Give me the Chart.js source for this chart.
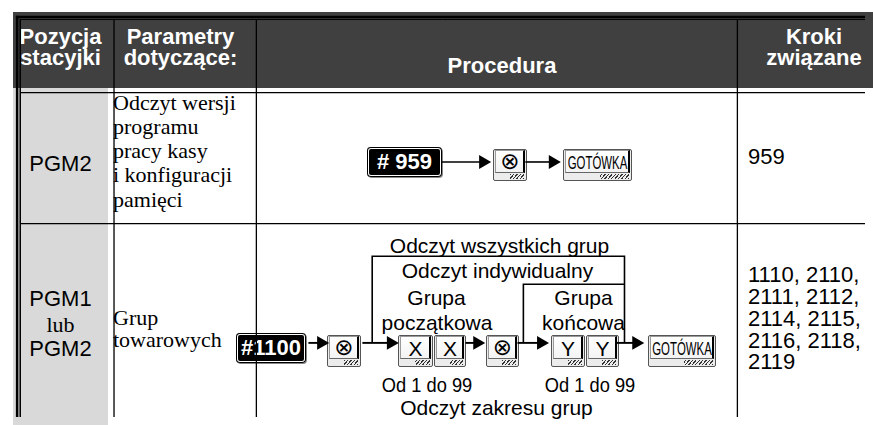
<!DOCTYPE html>
<html>
<head>
<meta charset="utf-8">
<script src="https://cdn.jsdelivr.net/npm/chart.js@4.4.1/dist/chart.umd.min.js"></script>
<style>
html,body{margin:0;padding:0;background:#fff;}
#wrap{position:relative;width:873px;height:425px;overflow:hidden;background:#fff;}
#cv{position:absolute;left:0;top:0;z-index:5;pointer-events:none;}
.t{position:absolute;white-space:pre;}
.bg{position:absolute;}
.gk{position:absolute;box-sizing:border-box;border:1px solid #555;background:#ececec;border-radius:2px;}
.gk .face{position:absolute;box-sizing:border-box;left:1px;top:0px;right:1px;bottom:7px;background:linear-gradient(#ffffff,#f3f3f3);border:1px solid #9a9a9a;border-right:2px solid #000;border-bottom:1px solid #666;}
.gk .hatch{position:absolute;right:2px;bottom:1px;height:5px;background:repeating-linear-gradient(-50deg,#333 0 1px,transparent 1px 2.6px);}
.gk .lbl{position:absolute;left:-60px;right:-60px;text-align:center;white-space:pre;color:#000;}
.bk{position:absolute;box-sizing:border-box;background:#000;border-radius:4px;box-shadow:inset 0 0 0 1px #000,inset 0 0 0 2px #fff,1px 1px 0 #888;}
.bk .lbl{position:absolute;left:-20px;right:-20px;text-align:center;white-space:pre;color:#fff;font-family:"Liberation Sans",Arial,sans-serif;font-weight:bold;}
</style>
</head>
<body>
<div id="wrap"><canvas id="cv" width="873" height="425"></canvas></div>
<script>
// ---- content (texts) ----
const headerCol1 = ["Pozycja", "stacyjki"];
const headerCol2 = ["Parametry", "dotyczące:"];
const headerCol3 = ["Procedura"];
const headerCol4 = ["Kroki", "związane"];
const row1Position = ["PGM2"];
const row1Params = ["Odczyt wersji", "programu", "pracy kasy", "i konfiguracji", "pamięci"];
const row1Steps = ["959"];
const row2Position = ["PGM1", "lub", "PGM2"];
const row2Params = ["Grup", "towarowych"];
const row2Steps = ["1110, 2110,", "2111, 2112,", "2114, 2115,", "2116, 2118,", "2119"];
const flow1Keys = ["# 959", "⊗", "GOTÓWKA"];
const flow2Keys = ["#1100", "⊗", "X", "X", "⊗", "Y", "Y", "GOTÓWKA"];
const flow2Labels = ["Odczyt wszystkich grup", "Odczyt indywidualny", "Grupa", "początkowa", "Grupa", "końcowa", "Od 1 do 99", "Od 1 do 99", "Odczyt zakresu grup"];

// ---- layout ----
const wrap = document.getElementById('wrap');
const SANS = '"Liberation Sans", Arial, sans-serif';
const SERIF = '"Liberation Serif", "Times New Roman", serif';

function bg(x0, y0, x1, y1, color) {
  const d = document.createElement('div');
  d.className = 'bg';
  Object.assign(d.style, {left: x0 + 'px', top: y0 + 'px', width: (x1 - x0) + 'px', height: (y1 - y0) + 'px', background: color});
  wrap.appendChild(d);
}
function put(text, x, base, o) {
  const size = o.size || 21;
  const serif = o.serif;
  const k = serif ? 0.8375 : 0.8465;
  const d = document.createElement('div');
  d.className = 't';
  d.textContent = text;
  Object.assign(d.style, {
    left: x + 'px', top: (base - k * size) + 'px', lineHeight: size + 'px',
    fontSize: size + 'px', fontFamily: serif ? SERIF : SANS,
    fontWeight: o.bold ? 'bold' : 'normal', color: o.color || '#000'
  });
  const sx = o.sx || 1;
  if (o.center) { d.style.transform = 'translateX(-50%) scaleX(' + sx + ')'; }
  else if (sx !== 1) { d.style.transformOrigin = '0 0'; d.style.transform = 'scaleX(' + sx + ')'; }
  wrap.appendChild(d);
}
function lines(arr, x, base0, step, o) {
  arr.forEach((s, i) => put(s, x, base0 + i * step, o));
}
function grayKey(label, x0, x1, y0, y1) {
  const d = document.createElement('div');
  d.className = 'gk';
  Object.assign(d.style, {left: x0 + 'px', top: y0 + 'px', width: (x1 - x0) + 'px', height: (y1 - y0) + 'px'});
  const f = document.createElement('div'); f.className = 'face'; d.appendChild(f);
  const h = document.createElement('div'); h.className = 'hatch'; h.style.width = Math.round((x1 - x0) * 0.42) + 'px'; d.appendChild(h);
  const l = document.createElement('div'); l.className = 'lbl'; l.textContent = label;
  const faceH = (y1 - y0) - 9;
  if (label === 'GOTÓWKA') {
    Object.assign(l.style, {fontFamily: SANS, fontSize: '19px', lineHeight: faceH + 'px', top: '1px', transform: 'scaleX(0.6)'});
  } else if (label === '⊗') {
    Object.assign(l.style, {fontFamily: '"DejaVu Sans", sans-serif', fontSize: '23px', lineHeight: faceH + 'px', top: '0px'});
  } else {
    Object.assign(l.style, {fontFamily: SANS, fontSize: '21px', lineHeight: faceH + 'px', top: '1px'});
  }
  d.appendChild(l);
  wrap.appendChild(d);
}
function blackKey(label, x0, x1, y0, y1) {
  const d = document.createElement('div');
  d.className = 'bk';
  Object.assign(d.style, {left: x0 + 'px', top: y0 + 'px', width: (x1 - x0) + 'px', height: (y1 - y0) + 'px'});
  const l = document.createElement('div'); l.className = 'lbl'; l.textContent = label;
  Object.assign(l.style, {fontSize: '22px', lineHeight: (y1 - y0) + 'px', top: '0px'});
  d.appendChild(l);
  wrap.appendChild(d);
}

// backgrounds
bg(13, 12, 873, 88, '#404040');
bg(13, 88, 108, 425, '#d9d9d9');

// header texts
const H = {size: 22, bold: true, color: '#fff', center: true};
lines(headerCol1, 60.5, 45, 20.5, H);
lines(headerCol2, 180.5, 45, 20.5, H);
lines(headerCol3, 502, 74, 20.5, H);
lines(headerCol4, 814, 45, 20.5, H);

// row 1
put(row1Position[0], 60.5, 172, {size: 22, center: true});
lines(row1Params, 113, 110, 24.3, {size: 22, serif: true});
put(row1Steps[0], 748, 165, {size: 22});

// row 2
put(row2Position[0], 60.5, 307, {size: 22, center: true});
put(row2Position[1], 60.5, 332, {size: 22, serif: true, center: true});
put(row2Position[2], 60.5, 357, {size: 22, center: true});
lines(row2Params, 113, 325, 22.5, {size: 22, serif: true});
lines(row2Steps, 748, 283, 21.75, {size: 22});

// flow 1 keys
blackKey(flow1Keys[0], 367, 442, 147, 177);
grayKey(flow1Keys[1], 493, 527, 149, 181);
grayKey(flow1Keys[2], 563, 632, 149, 181);

// flow 2 keys
blackKey(flow2Keys[0], 236, 306, 333, 363);
const k2 = [[327, 361], [398, 433], [434, 466], [486, 519], [551, 585], [586, 619], [648, 716]];
flow2Keys.slice(1).forEach((lab, i) => grayKey(lab, k2[i][0], k2[i][1], 335, 367));

// flow 2 labels
const L = {size: 21, center: true};
put(flow2Labels[0], 499.5, 253, L);
put(flow2Labels[1], 497.5, 278, L);
put(flow2Labels[2], 436.5, 305, L);
put(flow2Labels[3], 437, 330, L);
put(flow2Labels[4], 583.5, 305, L);
put(flow2Labels[5], 583.5, 330, L);
put(flow2Labels[6], 427, 392, Object.assign({sx: 0.87}, L));
put(flow2Labels[7], 590, 392, Object.assign({sx: 0.87}, L));
put(flow2Labels[8], 496.5, 415, L);

// ---- lines & arrows drawn through Chart.js linear scales ----
function seg(points, w) {
  return {data: points.map(p => ({x: p[0], y: p[1]})), showLine: true, borderColor: '#000', borderWidth: w, pointRadius: 0, tension: 0, borderCapStyle: 'butt', clip: false};
}
const gridLines = [
  seg([[8, 9.3], [873, 9.3]], 2.5),
  seg([[12, 12], [873, 12]], 1),
  seg([[9.3, 8], [9.3, 425]], 2.5),
  seg([[12.5, 11.5], [12.5, 425]], 1),
  seg([[13, 88], [873, 88]], 1.3),
  seg([[108, 12], [108, 425]], 1.3),
  seg([[253, 12], [253, 425]], 1.3),
  seg([[743, 12], [743, 425]], 1.3),
  seg([[13, 224], [873, 224]], 1.3)
];
const connectors = [
  seg([[442, 160], [485, 160]], 1.6),
  seg([[527, 160], [556, 160]], 1.6),
  seg([[306, 348], [320, 348]], 1.9),
  seg([[361, 348], [390, 348]], 1.9),
  seg([[466, 348], [478, 348]], 1.9),
  seg([[519, 348], [543, 348]], 1.9),
  seg([[619, 348], [640, 348]], 1.9),
  seg([[371, 348], [371, 258], [628, 258], [628, 348]], 1.6),
  seg([[525, 348], [525, 287], [628, 287]], 1.6)
];
const arrowTips = [[492, 160], [563, 160], [327, 348], [398, 348], [486, 348], [551, 348], [648, 348]];
const R = 8;
const arrows = {
  data: arrowTips.map(p => ({x: p[0] - R, y: p[1]})),
  showLine: false, pointStyle: 'triangle', rotation: 90, pointRadius: R,
  backgroundColor: '#000', borderColor: '#000', borderWidth: 0, clip: false
};

new Chart(document.getElementById('cv'), {
  type: 'scatter',
  data: {datasets: [...gridLines, ...connectors, arrows]},
  options: {
    responsive: false, animation: false, events: [],
    layout: {padding: 0},
    plugins: {legend: {display: false}, tooltip: {enabled: false}, title: {display: false}},
    scales: {
      x: {type: 'linear', min: 0, max: 873, display: false},
      y: {type: 'linear', min: 0, max: 425, reverse: true, display: false}
    }
  }
});
</script>
</body>
</html>
